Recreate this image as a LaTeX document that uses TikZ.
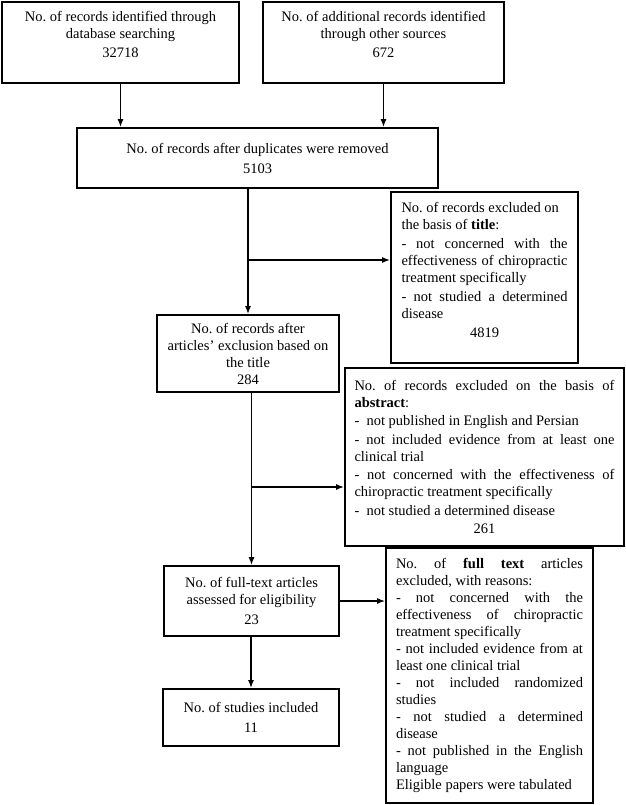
\documentclass[tikz,border=0pt]{standalone}
\usepackage{fontspec}
\setmainfont{Liberation Serif}
\usetikzlibrary{arrows.meta}
\tolerance=10000
\hyphenpenalty=10000
\frenchspacing

\begin{document}
\begin{tikzpicture}[x=1pt,y=-1pt,
        box/.style={draw,line width=1.8pt,align=center,inner sep=0pt,
            font=\fontsize{14.5}{17}\selectfont},
        note/.style={box,align=justify},
        arr/.style={line width=1.3pt,-{Latex[length=8pt,width=6pt]}}]
    \useasboundingbox (0,0) rectangle (625,805);
    % identification
    \node (db) at (120.5,42.5) [box,minimum width=237pt,minimum height=81pt]
        {No. of records identified through\\database searching\\[2pt]32718\\\mbox{}};
    \node (oth) at (383.5,42.5) [box,minimum width=241pt,minimum height=81pt]
        {No. of additional records identified\\through other sources\\[2pt]672\\\mbox{}};
    \node (dup) at (257.5,158) [box,minimum width=361pt,minimum height=60pt]
        {No. of records after duplicates were removed\\[3pt]5103};
    % screening
    \node (ttl) at (248,353.5) [box,minimum width=182pt,minimum height=77pt]
        {No. of records after\\articles' exclusion based on\\the title\\284};
    \node (xttl) at (484.5,277.5) [note,text width=166pt,inner xsep=10.5pt,minimum height=171pt]
        {\setlength{\parskip}{2pt}No. of records excluded on\\the basis of \textbf{title}:\par
        - not concerned with the\linebreak effectiveness of chiropractic\linebreak treatment specifically\par
        - not studied a determined\linebreak disease\par
        \centering 4819\\[-2pt]\mbox{}\par};
    \node (xabs) at (484.5,457) [note,text width=260pt,inner xsep=9.5pt,minimum height=178pt]
        {\setlength{\parskip}{1.5pt}No. of records excluded on the basis of\linebreak \textbf{abstract}:\par
        - ~not published in English and Persian\par
        - not included evidence from at least one\linebreak clinical trial\par
        - not concerned with the effectiveness of\linebreak chiropractic treatment specifically\par
        - ~not studied a determined disease\par
        \centering 261\par};
    % eligibility
    \node (full) at (251.5,601) [box,minimum width=175pt,minimum height=70pt]
        {No. of full-text articles\\assessed for eligibility\\[3pt]23};
    \node (xfull) at (489.5,675.5) [note,text width=187pt,inner xsep=10pt,minimum height=255pt]
        {No. of \textbf{full text} articles\linebreak excluded, with reasons:\par
        - not concerned with the\linebreak effectiveness of chiropractic\linebreak treatment specifically\par
        - not included evidence from at\linebreak least one clinical trial\par
        - not included randomized\linebreak studies\par
        - not studied a determined\linebreak disease\par
        - not published in the English\linebreak language\par
        Eligible papers were tabulated};
    % included
    \node (inc) at (251,717.5) [box,minimum width=176pt,minimum height=57pt]
        {No. of studies included\\[3pt]11};
    \coordinate (s1) at (248,260);
    \coordinate (s2) at (251.5,487);
    \draw[arr] (db.south) -- (db.south |- dup.north);
    \draw[arr] (oth.south) -- (oth.south |- dup.north);
    \draw[arr] (ttl.north |- dup.south) -- (ttl.north);
    \draw[arr] (s1) -- (s1 -| xttl.west);
    \draw[arr] (full.north |- ttl.south) -- (full.north);
    \draw[arr] (s2) -- (s2 -| xabs.west);
    \draw[arr] (full.east) -- (full.east -| xfull.west);
    \draw[arr] (inc.north |- full.south) -- (inc.north);
\end{tikzpicture}
\end{document}
